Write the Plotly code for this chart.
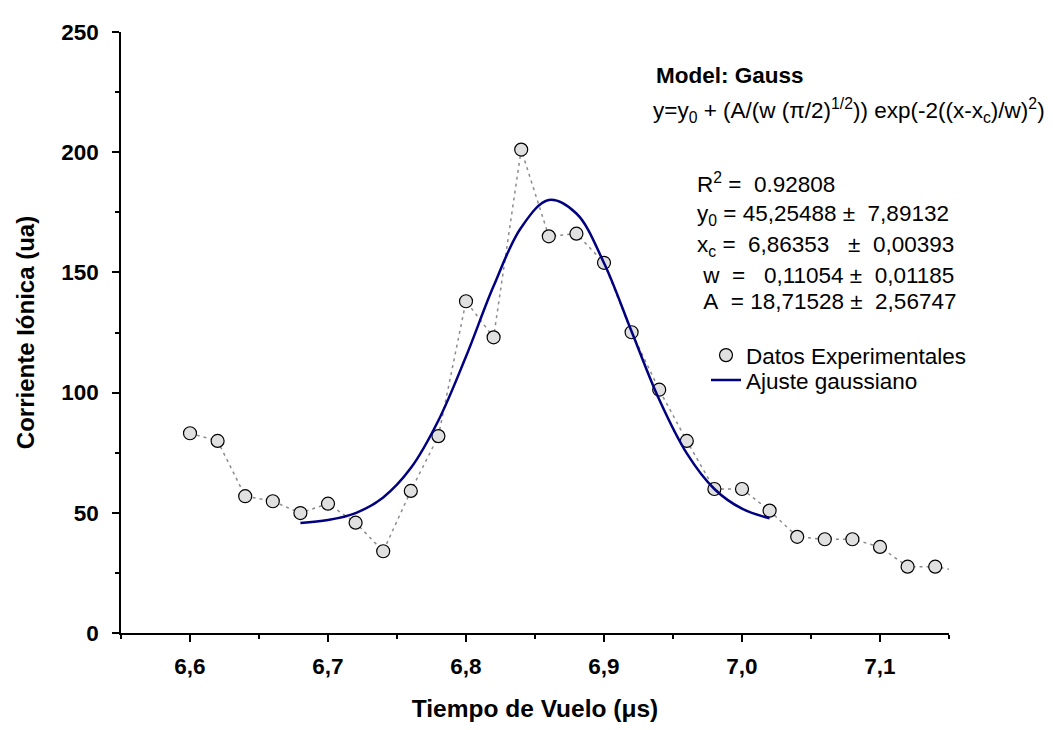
import plotly.graph_objects as go

# ---- data ----
t_data = [6.60, 6.62, 6.64, 6.66, 6.68, 6.70, 6.72, 6.74, 6.76, 6.78,
          6.80, 6.82, 6.84, 6.86, 6.88, 6.90, 6.92, 6.94, 6.96, 6.98,
          7.00, 7.02, 7.04, 7.06, 7.08, 7.10, 7.12, 7.14, 7.16]
i_data = [83.1, 79.9, 56.9, 54.8, 49.9, 53.8, 45.9, 34.0, 59.1, 81.9,
          138.0, 123.0, 201.1, 165.0, 166.1, 154.0, 125.1, 101.2, 79.9, 59.9,
          59.9, 50.9, 40.0, 39.0, 39.0, 35.8, 27.6, 27.6, 25.5]

t_fit = [6.68, 6.70, 6.72, 6.74, 6.76, 6.78, 6.80, 6.82, 6.84, 6.86,
         6.88, 6.90, 6.92, 6.94, 6.96, 6.98, 7.00, 7.02]
i_fit = [45.8, 47.0, 49.9, 56.4, 68.6, 88.4, 115.0, 144.3, 168.7, 180.1,
         174.5, 153.9, 125.4, 97.1, 74.7, 59.9, 51.7, 47.7]

x_ticks = [6.6, 6.7, 6.8, 6.9, 7.0, 7.1]
y_ticks = [0, 50, 100, 150, 200, 250]

stats_lines = [
    "R<sup>2</sup> =\u00a0 0.92808",
    "y<sub>0</sub> = 45,25488 \u00b1\u00a0 7,89132",
    "x<sub>c</sub> =\u00a0 6,86353\u00a0\u00a0 \u00b1\u00a0 0,00393",
    "\u00a0w\u00a0 =\u00a0\u00a0 0,11054 \u00b1\u00a0 0,01185",
    "\u00a0A\u00a0 = 18,71528 \u00b1\u00a0 2,56747",
]

FONT = "Arial, 'Liberation Sans', sans-serif"
FS = 22.5

# page body has an 8px margin: the figure starts at screen (8, 8)
OFF = 8
# plot-area geometry in screen pixels
L, R, T, B = 121, 949, 30, 635
W, H = 1053 - OFF, 730 - OFF


def xp(px):
    return (px - L) / (R - L)


def yp(py):
    return (B - py) / (B - T)


fig = go.Figure()

# dotted connector through the data
fig.add_trace(go.Scatter(
    x=t_data, y=i_data, mode="lines", showlegend=False, hoverinfo="skip",
    line=dict(color="#8c8c8c", width=1.5, dash="3px,4px"),
))
# data markers
fig.add_trace(go.Scatter(
    x=t_data, y=i_data, mode="markers", name="Datos Experimentales",
    legend="legend",
    marker=dict(symbol="circle", size=13, color="#e0e0e0",
                line=dict(color="black", width=1.2)),
))
# gaussian fit
fig.add_trace(go.Scatter(
    x=t_fit, y=i_fit, mode="lines", name="Ajuste gaussiano",
    legend="legend2",
    line=dict(color="#000080", width=2.5, shape="spline", smoothing=1.0),
))

annotations = [
    dict(x=xp(655), y=yp(74), text="<b>Model: Gauss</b>"),
    dict(x=xp(652), y=yp(109),
         text="y=y<sub>0</sub> + (A/(w (\u03c0/2)<sup>1/2</sup>)) exp(-2((x-x<sub>c</sub>)/w)<sup>2</sup>)"),
]
stat_y = [182, 214, 245, 275, 301]
for txt, py in zip(stats_lines, stat_y):
    annotations.append(dict(x=xp(696), y=yp(py), text=txt))
for a in annotations:
    a.update(xref="paper", yref="paper", xanchor="left", yanchor="middle",
             showarrow=False, align="left", borderpad=0,
             font=dict(size=FS, family=FONT, color="black"))

legend_common = dict(xanchor="left", yanchor="top",
                     bgcolor="rgba(0,0,0,0)", borderwidth=0,
                     font=dict(size=FS, family=FONT, color="black"),
                     itemwidth=30)

fig.update_layout(
    width=W, height=H,
    margin=dict(l=L - OFF, r=1053 - R, t=T - OFF, b=730 - B, pad=0),
    paper_bgcolor="white", plot_bgcolor="white",
    separators=",.",
    font=dict(family=FONT, size=FS, color="black"),
    annotations=annotations,
    legend=dict(x=xp(706), y=yp(334), **legend_common),
    legend2=dict(x=xp(706), y=yp(359), **legend_common),
    xaxis=dict(
        range=[6.55, 7.15], tickvals=x_ticks, tickformat=".1f",
        showgrid=False, zeroline=False,
        showline=True, linecolor="black", linewidth=1.5,
        ticks="outside", ticklen=7, tickwidth=1.5, tickcolor="black",
        minor=dict(ticks="outside", ticklen=4, tickwidth=1.5, tickcolor="black",
                   dtick=0.05, tick0=6.55, showgrid=False),
        tickfont=dict(size=FS, family=FONT, color="black", weight="bold"),
        ticklabelstandoff=5,
        title=dict(text="<b>Tiempo de Vuelo (\u03bcs)</b>",
                   font=dict(size=24.5, family=FONT, color="black"), standoff=22),
    ),
    yaxis=dict(
        range=[0, 250], tickvals=y_ticks,
        showgrid=False, zeroline=False,
        showline=True, linecolor="black", linewidth=1.5,
        ticks="outside", ticklen=7, tickwidth=1.5, tickcolor="black",
        minor=dict(ticks="outside", ticklen=4, tickwidth=1.5, tickcolor="black",
                   dtick=25, tick0=0, showgrid=False),
        tickfont=dict(size=FS, family=FONT, color="black", weight="bold"),
        ticklabelstandoff=9,
        title=dict(text="<b>Corriente I\u00f3nica (ua)</b>",
                   font=dict(size=24, family=FONT, color="black"), standoff=20),
    ),
)

fig.write_html("out.html")
